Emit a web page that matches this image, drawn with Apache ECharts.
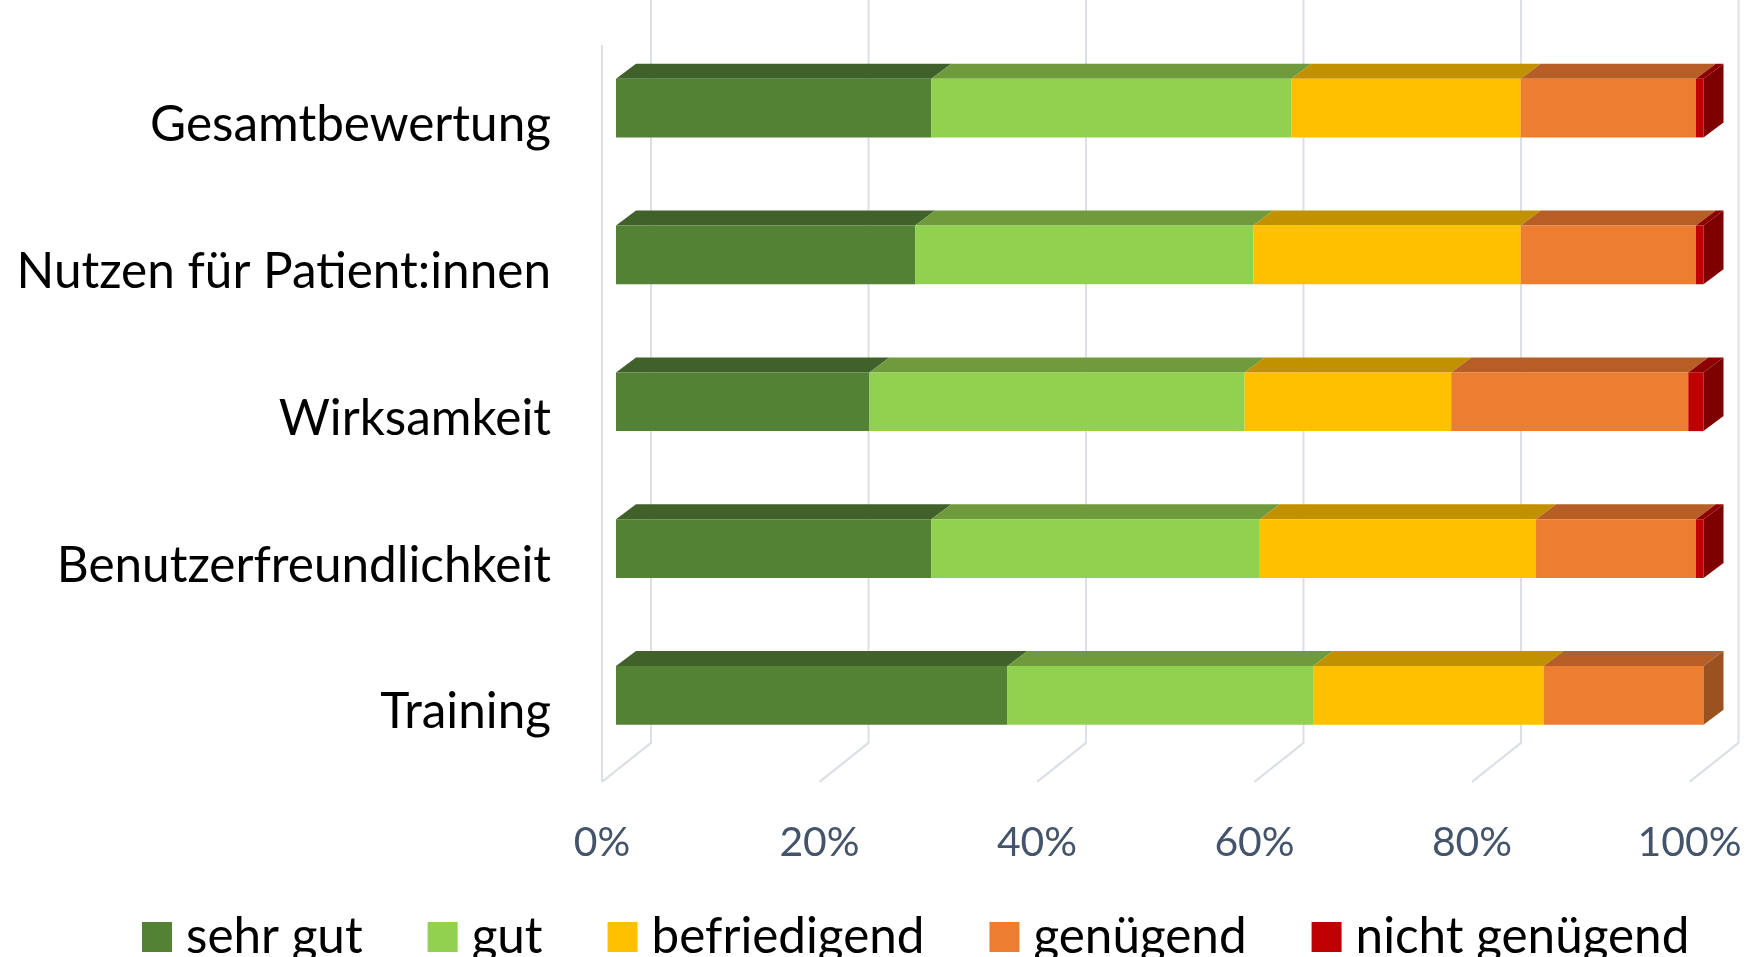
<!DOCTYPE html>
<html>
<head>
<meta charset="utf-8">
<script src="https://cdn.jsdelivr.net/npm/echarts@6/dist/echarts.min.js"></script>
<style>
html,body{margin:0;padding:0;background:#fff;}
#chart{width:1749px;height:957px;}
</style>
</head>
<body>
<div id="chart"></div>
<script>
// ---- data ----
var categories = ['Gesamtbewertung', 'Nutzen für Patient:innen', 'Wirksamkeit', 'Benutzerfreundlichkeit', 'Training'];
var seriesNames = ['sehr gut', 'gut', 'befriedigend', 'genügend', 'nicht genügend'];
var sehrGut        = [29.0, 27.5, 23.3, 29.0, 36.0];
var gut            = [33.1, 31.1, 34.5, 30.2, 28.1];
var befriedigend   = [21.1, 24.6, 19.0, 25.4, 21.2];
var genuegend      = [16.1, 16.1, 21.8, 14.7, 14.7];
var nichtGenuegend = [0.7, 0.7, 1.4, 0.7, 0];
var tickValues = [0, 20, 40, 60, 80, 100];

// ---- styles ----
var FONT = 'Lato';
var frontColors = ['#548235', '#92D050', '#FFC000', '#ED7D31', '#C00000'];
var topColors   = ['#40612A', '#6F9B3C', '#C29100', '#B65E25', '#8E0000'];
var sideColors  = ['#38552A', '#628A35', '#A87F00', '#9C5220', '#7F0000'];
var DX = 20, DY = 15;          // 3D depth of bars
var GRID_BACK_DX = 35;        // back wall offset from bar front
var FLOOR_FRONT_DX = -14;     // floor front offset from bar front
var gridColor = '#DCDFE6';

function fitSize(text, target) {
  var c = document.createElement('canvas').getContext('2d');
  c.font = '100px ' + FONT;
  return 100 * target / c.measureText(text).width;
}
var catSize = fitSize('Gesamtbewertung', 401);
var tickSize = fitSize('100%', 104);
var legSize = fitSize('befriedigend', 273);

var valueArrays = [sehrGut, gut, befriedigend, genuegend, nichtGenuegend];

function buildSeriesData(k) {
  return categories.map(function (c, i) {
    var start = 0;
    for (var j = 0; j < k; j++) start += valueArrays[j][i];
    var end = start + valueArrays[k][i];
    var last = 1;
    for (var j2 = k + 1; j2 < valueArrays.length; j2++) if (valueArrays[j2][i] > 0) last = 0;
    return [i, start, end, last];
  });
}

function renderSegment(k) {
  return function (params, api) {
    var cat = api.value(0), s = api.value(1), e = api.value(2), last = api.value(3);
    if (e - s <= 0) return null;
    var p0 = api.coord([s, cat]);
    var p1 = api.coord([e, cat]);
    var h = api.size([0, 1])[1] * 0.4;
    var x0 = p0[0], x1 = p1[0];
    var yT = p0[1] - h / 2, yB = p0[1] + h / 2;
    var children = [
      { type: 'polygon', shape: { points: [[x0, yT], [x1, yT], [x1 + DX, yT - DY], [x0 + DX, yT - DY]] },
        style: { fill: topColors[k] } },
      { type: 'rect', shape: { x: x0, y: yT, width: x1 - x0, height: yB - yT },
        style: { fill: frontColors[k] } }
    ];
    if (last) {
      children.push({ type: 'polygon', shape: { points: [[x1, yT], [x1 + DX, yT - DY], [x1 + DX, yB - DY], [x1, yB]] },
        style: { fill: sideColors[k] } });
    }
    return { type: 'group', children: children };
  };
}

var series = seriesNames.map(function (name, k) {
  return {
    name: name,
    type: 'custom',
    coordinateSystem: 'cartesian2d',
    data: buildSeriesData(k),
    encode: { x: [1, 2], y: 0 },
    itemStyle: { color: frontColors[k] },
    renderItem: renderSegment(k),
    z: 3,
    silent: true
  };
});

// gridlines / walls
series.unshift({
  name: 'grid',
  type: 'custom',
  coordinateSystem: 'cartesian2d',
  data: tickValues.map(function (v) { return [v]; }),
  encode: { x: 0 },
  silent: true,
  z: 1,
  renderItem: function (params, api) {
    var v = api.value(0);
    var x = api.coord([v, 0])[0];
    var cs = params.coordSys;
    var floorBack = cs.y + cs.height - 26;
    var floorFront = cs.y + cs.height + 13;
    var xb = x + GRID_BACK_DX, xf = x + FLOOR_FRONT_DX;
    var children = [
      { type: 'polyline', shape: { points: [[xb, 0], [xb, floorBack], [xf, floorFront]] },
        style: { stroke: gridColor, lineWidth: 2, fill: null } }
    ];
    if (v === tickValues[0]) {
      children.push({ type: 'line', shape: { x1: xf, y1: 45, x2: xf, y2: floorFront },
        style: { stroke: gridColor, lineWidth: 2 } });
    }
    return { type: 'group', children: children };
  }
});

var chart = echarts.init(document.getElementById('chart'));
chart.setOption({
  animation: false,
  backgroundColor: '#ffffff',
  grid: { left: 616, width: 1087.5, top: 34.6, height: 734.3, containLabel: false, outerBoundsMode: 'none' },
  xAxis: {
    type: 'value', min: 0, max: 100, interval: 20,
    axisLine: { show: false }, axisTick: { show: false }, splitLine: { show: false },
    axisLabel: {
      formatter: '{value}%', fontFamily: FONT, fontSize: tickSize, color: '#44546A',
      lineHeight: 56, margin: 46, padding: [0, 28, 0, 0]
    }
  },
  yAxis: {
    type: 'category', data: categories, inverse: true,
    axisLine: { show: false }, axisTick: { show: false }, splitLine: { show: false },
    axisLabel: {
      fontFamily: FONT, fontSize: catSize, color: '#000000', margin: 65,
      verticalAlign: 'top', lineHeight: 34
    }
  },
  legend: {
    data: seriesNames,
    left: 137, top: 905,
    itemWidth: 30, itemHeight: 30, itemGap: 65,
    icon: 'rect',
    textStyle: { fontFamily: FONT, fontSize: legSize, color: '#000000', lineHeight: 54, padding: [0, 0, 0, 9] }
  },
  series: series
});
</script>
</body>
</html>
